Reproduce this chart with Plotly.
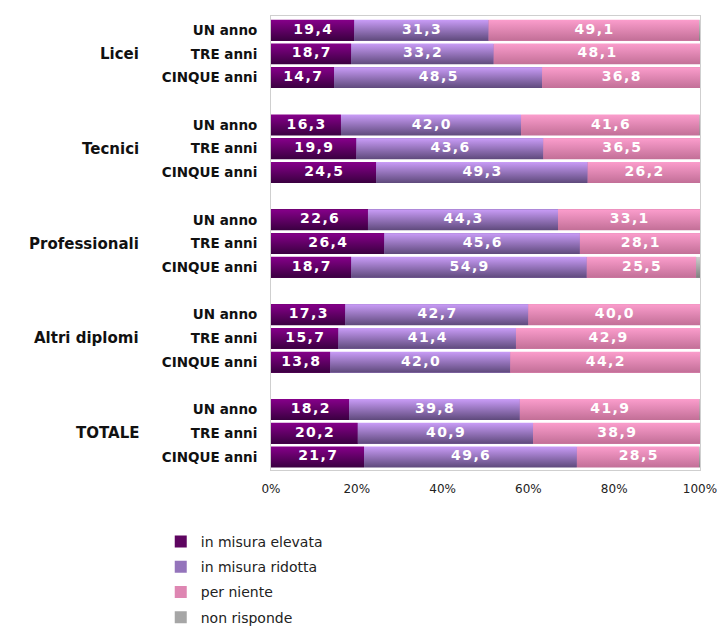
import plotly.graph_objects as go

groups = ["Licei", "Tecnici", "Professionali", "Altri diplomi", "TOTALE"]
periods = ["UN anno", "TRE anni", "CINQUE anni"]

# values per row (group-major order)
elevata = [19.4, 18.7, 14.7, 16.3, 19.9, 24.5, 22.6, 26.4, 18.7, 17.3, 15.7, 13.8, 18.2, 20.2, 21.7]
ridotta = [31.3, 33.2, 48.5, 42.0, 43.6, 49.3, 44.3, 45.6, 54.9, 42.7, 41.4, 42.0, 39.8, 40.9, 49.6]
niente = [49.1, 48.1, 36.8, 41.6, 36.5, 26.2, 33.1, 28.1, 25.5, 40.0, 42.9, 44.2, 41.9, 38.9, 28.5]
non_risponde = [0.2, 0.0, 0.0, 0.1, 0.0, 0.0, 0.0, 0.0, 0.9, 0.0, 0.0, 0.0, 0.1, 0.0, 0.2]

series_names = ["in misura elevata", "in misura ridotta", "per niente", "non risponde"]
tick_vals_pct = [0, 20, 40, 60, 80, 100]
tick_text_pct = ["0%", "20%", "40%", "60%", "80%", "100%"]

ypos = []
ylabels = []
for g in range(len(groups)):
    for i, p in enumerate(periods):
        ypos.append(g * 4 + i)
        ylabels.append(p)

series = [elevata, ridotta, niente, non_risponde]
solid = ["#5e0560", "#9474bb", "#de86b2", "#a6a6a6"]
gradients = [
    [[0, "#3a0040"], [1, "#86008a"]],
    [[0, "#5f4a7c"], [1, "#c99cf7"]],
    [[0, "#c26f97"], [1, "#fb9dcc"]],
    [[0, "#7f7f7f"], [1, "#cfcfcf"]],
]
BAR_W = 0.88
HS = "\u200a"


def fmt(v):
    s = f"{v:.1f}".replace(".", ",")
    return HS.join(s)


fig = go.Figure()

# legend / base bars (solid)
for name, vals, col in zip(series_names, series, solid):
    fig.add_trace(go.Bar(
        x=vals, y=ypos, orientation="h", name=name,
        marker=dict(color=col, line=dict(width=0)),
        width=BAR_W, legendgroup=name, hoverinfo="skip",
    ))

# gradient overlay for each stacked segment
base = [0.0] * len(ypos)
label_x, label_y, label_t = [], [], []
for s_idx, (name, vals) in enumerate(zip(series_names, series)):
    for r, (yv, v) in enumerate(zip(ypos, vals)):
        if v <= 0:
            continue
        x0 = base[r]
        x1 = x0 + v
        y0 = yv - BAR_W / 2
        y1 = yv + BAR_W / 2
        fig.add_trace(go.Scatter(
            x=[x0, x1, x1, x0, x0], y=[y0, y0, y1, y1, y0],
            mode="lines", line=dict(width=0), fill="toself",
            fillgradient=dict(type="vertical", colorscale=gradients[s_idx]),
            showlegend=False, hoverinfo="skip",
        ))
        if name != "non risponde":
            label_x.append((x0 + x1) / 2)
            label_y.append(yv)
            label_t.append(fmt(v))
    base = [b + v for b, v in zip(base, vals)]

fig.add_trace(go.Scatter(
    x=label_x, y=label_y, text=label_t, mode="text",
    textposition="middle center",
    textfont=dict(color="white", size=14, family="DejaVu Sans", weight="bold"),
    showlegend=False, hoverinfo="skip",
))

annotations = []
for g, gname in enumerate(groups):
    annotations.append(dict(
        text="<b>" + gname + "</b>", xref="paper", yref="y",
        x=-0.302, y=g * 4 + 1, xanchor="right", yanchor="middle",
        showarrow=False, font=dict(size=15, family="DejaVu Sans", color="#111111"),
    ))

fig.update_layout(
    barmode="stack",
    width=740, height=660,
    margin=dict(l=271, r=40, t=16, b=190),
    paper_bgcolor="white", plot_bgcolor="white",
    separators=",.",
    showlegend=True,
    legend=dict(
        x=-0.257, y=-0.1233, xanchor="left", yanchor="top",
        orientation="v", traceorder="grouped", tracegroupgap=4,
        font=dict(size=14, family="DejaVu Sans", color="#222222"),
        itemwidth=30,
    ),
    annotations=annotations,
    xaxis=dict(
        range=[0, 100], tickvals=tick_vals_pct, ticktext=tick_text_pct,
        showgrid=False, zeroline=False, showline=True, mirror=True,
        linecolor="#cfcfcf", linewidth=1, ticks="", automargin=False,
        tickfont=dict(size=12, family="DejaVu Sans", color="#222222"),
        ticklabelstandoff=8,
    ),
    yaxis=dict(
        range=[18.55, -0.6], tickvals=ypos, ticktext=["<b>" + t + "</b>" for t in ylabels],
        showgrid=False, zeroline=False, showline=True, mirror=True,
        linecolor="#cfcfcf", linewidth=1, ticks="", automargin=False,
        tickfont=dict(size=13.5, family="DejaVu Sans", color="#111111"),
        ticklabelstandoff=10,
    ),
)

fig.write_html(
    "out.html",
    config={"displayModeBar": False},
    post_script="document.body.style.margin='0';document.body.style.overflow='hidden';",
)
